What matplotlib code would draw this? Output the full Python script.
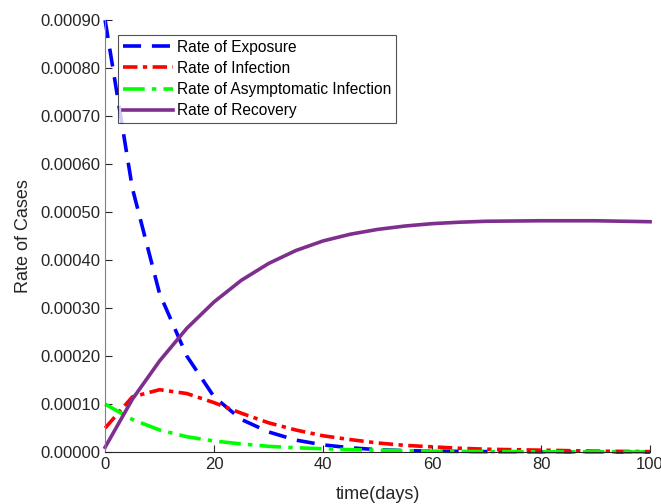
import numpy as np
import matplotlib
matplotlib.use('Agg')
import matplotlib.pyplot as plt
from matplotlib.ticker import FormatStrFormatter

plt.rcParams['font.family'] = ['Liberation Sans', 'DejaVu Sans']

days = [0, 5, 10, 15, 20, 25, 30, 35, 40, 45, 50, 55, 60, 65, 70, 80, 90, 100]
exposure = [0.00090, 0.00055, 0.00033, 0.00020, 0.000115, 0.000068, 0.000042, 0.000025,
            0.000015, 0.000009, 0.000005, 0.000003, 0.000002, 0.0000015, 0.000001,
            0.0000005, 0.0000002, 0.0000001]
infection = [0.00005, 0.000115, 0.00013, 0.000122, 0.000103, 0.000081, 0.000061, 0.000046,
             0.000034, 0.000026, 0.000019, 0.000014, 0.000011, 0.000008, 0.000006,
             0.000004, 0.000002, 0.000001]
asymptomatic = [0.00010, 0.000068, 0.000046, 0.000032, 0.000023, 0.000017, 0.000012,
                0.000009, 0.000007, 0.000005, 0.000004, 0.000003, 0.000002, 0.0000015,
                0.000001, 0.0000006, 0.0000003, 0.0000002]
recovery = [0.00001, 0.00011, 0.00019, 0.000258, 0.000313, 0.000358, 0.000393, 0.00042,
            0.00044, 0.000454, 0.000464, 0.000471, 0.000476, 0.000479, 0.000481,
            0.000482, 0.000482, 0.00048]

fig = plt.figure(figsize=(6.61, 5.04), dpi=100)
ax = fig.add_axes([0.159, 0.103, 0.8245, 0.857])

lw = 2.6
ax.plot(days, exposure, color='#0000ff', lw=lw, dashes=(5, 3), label='Rate of Exposure', clip_on=False)
ax.plot(days, infection, color='#ff0000', lw=lw, dashes=(4, 1.5, 1.2, 1.5), label='Rate of Infection', clip_on=False)
ax.plot(days, asymptomatic, color='#00ff00', lw=lw, dashes=(6, 2, 1.2, 2), label='Rate of Asymptomatic Infection', clip_on=False)
ax.plot(days, recovery, color='#7e2f8e', lw=lw, label='Rate of Recovery', clip_on=False)

ax.set_xlim(0, 100)
ax.set_ylim(0, 0.0009)
ax.set_xticks([0, 20, 40, 60, 80, 100])
ax.set_yticks(np.arange(0, 0.00091, 0.0001))
ax.yaxis.set_major_formatter(FormatStrFormatter('%.5f'))
ax.tick_params(direction='in', labelsize=12, colors='#262626', length=5)
ax.spines['top'].set_visible(False)
ax.spines['right'].set_visible(False)
ax.spines['left'].set_color('#808080')
ax.spines['bottom'].set_color('#262626')

ax.set_xlabel('time(days)', fontsize=13, color='#262626', labelpad=10)
ax.set_ylabel('Rate of Cases', fontsize=13, color='#262626', labelpad=6)

leg = ax.legend(loc='upper left', bbox_to_anchor=(0.024, 0.966), fontsize=11.2, handlelength=3.2,
                frameon=True, fancybox=False, edgecolor='#262626', borderpad=0.3,
                labelspacing=0.4, handletextpad=0.3, borderaxespad=0)
leg.get_frame().set_linewidth(0.8)

fig.savefig('out.png', dpi=100)
